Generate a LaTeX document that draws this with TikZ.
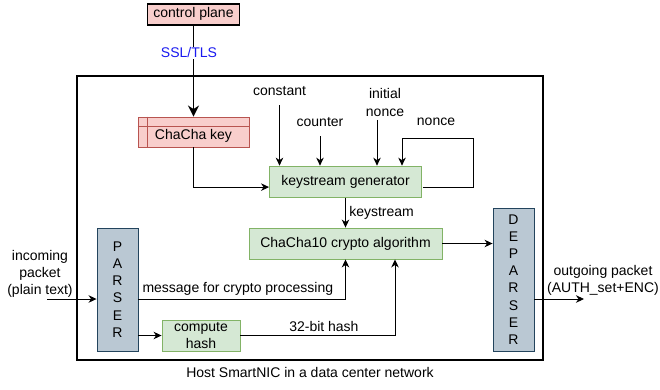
\documentclass[tikz,border=0pt]{standalone}
\usepackage{fontspec}
\setmainfont{Liberation Sans}
\usepackage{tikz}
\definecolor{keyfill}{HTML}{F8CECC}
\definecolor{keydraw}{HTML}{B85450}
\definecolor{grnfill}{HTML}{D5E8D4}
\definecolor{grndraw}{HTML}{82B366}
\definecolor{prsfill}{HTML}{BAC8D3}
\definecolor{prsdraw}{HTML}{23445D}
\definecolor{sslblue}{HTML}{1A1AF0}
\tikzstyle{block}=[draw, line width=0.9pt, inner sep=0pt]
\tikzstyle{keybox}=[block, fill=keyfill, draw=keydraw]
\tikzstyle{grnbox}=[block, fill=grnfill, draw=grndraw, align=center]
\tikzstyle{prsbox}=[block, fill=prsfill, draw=prsdraw, align=center]
\tikzstyle{arrow}=[line width=0.9pt,-{Stealth[length=8pt,width=7.5pt,inset=2.5pt]}]
\tikzstyle{thickarrow}=[line width=1.6pt,-{Stealth[length=11pt,width=11pt,inset=3.5pt]}]
\usetikzlibrary{arrows.meta,positioning,calc}

\begin{document}
\begin{tikzpicture}[x=1pt,y=-1pt,font=\fontsize{14}{17.2}\selectfont]
\useasboundingbox (0,0) rectangle (660,389);
\node (nic) [draw, line width=1.5pt, minimum width=466pt, minimum height=284pt] at (310,218) {};
\node (host) [below=3pt of nic] {Host SmartNIC in a data center network};

\node (parser) [prsbox, minimum width=41pt, minimum height=123pt] at (117.5,289.5) {P\\A\\R\\S\\E\\R};
\node (algo) [grnbox, minimum width=193pt, minimum height=31pt] at (345.5,243.5) {ChaCha10 crypto algorithm};
\node (ksg) [grnbox, above=30pt of algo, minimum width=152pt, minimum height=31pt] {keystream generator};
\node (key) [keybox, minimum width=111pt, minimum height=30pt, label={[yshift=-4pt]center:ChaCha key}] at (193.5,132) {};
\node (cp) [keybox, draw=black, line width=1.5pt, above=91pt of key, minimum width=92pt, minimum height=21pt] {control plane};
\node (hash) [grnbox, minimum width=78pt, minimum height=31pt] at (201,335.5) {compute\\hash};
\node (deparser) [prsbox, minimum width=41pt, minimum height=143pt] at (513.5,279.5) {D\\E\\P\\A\\R\\S\\E\\R};

\node (constant) at (279.5,91) {constant};
\node (counter) at (320,122) {counter};
\node (inonce) [align=center] at (385,102.5) {initial\\nonce};
\node (nonce) at (436,122) {nonce};
\node (in) [align=center] at (40,274) {incoming\\packet\\(plain text)};
\node (out) [align=center] at (603,280.5) {outgoing packet\\(AUTH\_set+ENC)};
\coordinate (inpt) at (47,299);
\coordinate (outpt) at (584,299);
\coordinate (loop) at (473,138);

% key storage lines
\draw[keydraw, line width=0.9pt] ([xshift=10pt]key.north west) -- ([xshift=10pt]key.south west);
\draw[keydraw, line width=0.9pt] ([yshift=-10pt]key.north west) -- ([yshift=-10pt]key.north east);

\draw[thickarrow] (cp) -- node[pos=0.3, xshift=-4.5pt, fill=white, text=sslblue, inner sep=1pt]{SSL/TLS} (key);
\draw[arrow] (key.south) |- ([yshift=-5.5pt]ksg.west);
\draw[arrow] ([yshift=-6pt]constant.south) -- (constant.south |- ksg.north);
\draw[arrow] ([yshift=-6pt]counter.south) -- (counter.south |- ksg.north);
\draw[arrow] ([xshift=-8pt]inonce.south) -- ([xshift=-8pt]inonce.south |- ksg.north);
\draw[arrow] ([xshift=1pt,yshift=-5.5pt]ksg.east) -| (loop) -| ([xshift=56.5pt]ksg.north);
\draw[arrow] (ksg.south) -- node[right]{keystream} (ksg.south |- algo.north);
\draw[arrow] (algo) -- (algo -| deparser.west);

\draw[arrow] (inpt) -- (inpt -| parser.west);
\draw[arrow] (parser.east |- inpt) -| node[above,pos=0.24]{message for crypto processing} (algo.south);
\draw[arrow] (parser.east |- hash.west) -- (hash.west);
\draw[arrow] (hash.east) -| node[above,pos=0.27]{32-bit hash} ([xshift=49.5pt]algo.south);
\draw[arrow] (deparser.east |- outpt) -- (outpt);
\end{tikzpicture}
\end{document}
